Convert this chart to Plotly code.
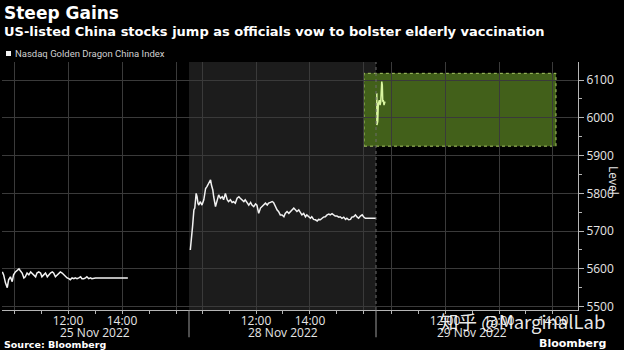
import plotly.graph_objects as go

# ---------------- data (minutes after 09:30 New York time) ----------------
t_nov25 = [4, 7, 11, 15, 18, 22, 26, 29, 33, 37, 41, 44, 48, 52, 55, 59, 63, 67, 70, 74,
           78, 81, 85, 89, 92, 96, 100, 104, 107, 111, 115, 118, 122, 126, 129, 133, 137, 141,
           144, 148, 152, 155, 159, 163, 166, 170, 174, 178, 181, 185, 189, 192, 196, 200,
           203, 207, 211, 283]
v_nov25 = [5592, 5584, 5563, 5550, 5571, 5579, 5566, 5584, 5592, 5597, 5600, 5595, 5589, 5576,
           5579, 5589, 5584, 5592, 5589, 5584, 5579, 5589, 5592, 5589, 5579, 5584, 5589, 5579,
           5584, 5589, 5592, 5589, 5579, 5584, 5589, 5592, 5589, 5584, 5579, 5576, 5574, 5571,
           5576, 5574, 5576, 5574, 5576, 5579, 5574, 5574, 5576, 5579, 5574, 5576, 5574, 5576,
           5576, 5576]

t_nov28 = [4, 6, 9, 12, 14, 17, 19, 21, 23, 26, 30, 34, 38, 41, 45, 49, 51, 54, 56, 60,
           63, 67, 71, 75, 78, 82, 86, 89, 93, 97, 100, 104, 108, 112, 115, 119, 123, 126,
           130, 134, 138, 141, 145, 149, 152, 156, 160, 163, 167, 171, 175, 178, 182, 186,
           189, 193, 197, 200, 204, 208, 212, 215, 219, 223, 226, 230, 234, 237, 241, 245,
           249, 252, 256, 260, 263, 267, 271, 274, 278, 282, 286, 289, 293, 297, 300, 304,
           308, 312, 315, 319, 323, 326, 330, 334, 337, 341, 345, 349, 352, 356, 360, 363,
           367, 371, 375, 378, 382, 386, 389, 393, 420]
v_nov28 = [5650, 5686, 5712, 5756, 5761, 5800, 5791, 5774, 5769, 5778, 5769, 5783, 5813, 5818,
           5827, 5836, 5822, 5809, 5791, 5765, 5778, 5796, 5787, 5791, 5783, 5800, 5783, 5778,
           5783, 5776, 5778, 5774, 5787, 5791, 5787, 5783, 5778, 5783, 5774, 5769, 5776, 5769,
           5765, 5772, 5769, 5747, 5761, 5765, 5769, 5774, 5769, 5774, 5776, 5778, 5776, 5765,
           5756, 5752, 5743, 5743, 5738, 5747, 5752, 5747, 5752, 5756, 5761, 5758, 5752, 5756,
           5747, 5743, 5747, 5738, 5743, 5738, 5734, 5738, 5731, 5730, 5727, 5731, 5730, 5734,
           5737, 5738, 5743, 5745, 5743, 5746, 5743, 5740, 5740, 5737, 5738, 5734, 5737, 5731,
           5734, 5730, 5731, 5737, 5738, 5743, 5737, 5734, 5740, 5743, 5738, 5734, 5734]

t_nov29 = [74.2, 74.3, 75.2, 75.9, 77.0, 77.8, 78.6, 78.9, 79.7, 80.3, 80.8, 81.4, 82.2, 83.0, 83.3]
v_nov29 = [6065, 5981, 5990, 6038, 6047, 6034, 6043, 6091, 6096, 6087, 6043, 6047, 6034, 6038, 6043]

day_labels = ["25 Nov 2022", "28 Nov 2022", "29 Nov 2022"]
y_ticks = [5500, 5600, 5700, 5800, 5900, 6000, 6100]
highlight_low, highlight_high = 5925, 6118

WHITE = "#f2f2f2"
GRID = "#3a3a3a"
AXIS = "#b5b5b5"
TXT = "#e6e6e6"
TICKFONT = dict(family="Open Sans, Liberation Sans, sans-serif", size=12, color=TXT)

fig = go.Figure()
fig.add_trace(go.Scatter(x=t_nov25, y=v_nov25, xaxis="x", yaxis="y", mode="lines",
                         line=dict(color=WHITE, width=1.5), hoverinfo="skip", showlegend=False))
fig.add_trace(go.Scatter(x=t_nov28, y=v_nov28, xaxis="x2", yaxis="y", mode="lines",
                         line=dict(color=WHITE, width=1.5), hoverinfo="skip", showlegend=False))

xcommon = dict(anchor="y", showline=True, linecolor=AXIS, linewidth=1, showgrid=True,
               gridcolor=GRID, gridwidth=1, zeroline=False, ticks="",
               tickfont=TICKFONT, fixedrange=True)

W = 576.0
H = 248.0
b1, b2 = 187.0 / W, 374.0 / W

fig.update_layout(
    width=624, height=350,
    margin=dict(l=2, r=46, t=62, b=40),
    paper_bgcolor="#000000", plot_bgcolor="#000000",
    showlegend=False,
    xaxis=dict(domain=[0, b1], range=[3.3, 418.9], tickvals=[30, 150, 270, 390],
               ticktext=["", "12:00", "14:00", ""],
               minor=dict(dtick=60, tick0=30, ticks="outside", ticklen=3, tickcolor=AXIS, showgrid=False),
               **xcommon),
    xaxis2=dict(domain=[b1, b2], range=[1.1, 416.7], tickvals=[30, 150, 270, 390],
                ticktext=["", "12:00", "14:00", ""],
                minor=dict(dtick=60, tick0=30, ticks="outside", ticklen=3, tickcolor=AXIS, showgrid=False),
                **xcommon),
    xaxis3=dict(domain=[b2, 1], range=[73.3, 297.8], tickvals=[90, 150, 210, 270],
                ticktext=["", "12:00", "13:00", "14:00"],
                minor=dict(dtick=30, tick0=0, ticks="outside", ticklen=3, tickcolor=AXIS, showgrid=False),
                **xcommon),
    yaxis=dict(anchor="x3", side="right", range=[5491, 6148], tickvals=y_ticks,
               showline=True, linecolor=AXIS, showgrid=True, gridcolor=GRID, zeroline=False,
               ticks="outside", ticklen=5, tickcolor=AXIS, tickfont=TICKFONT,
               minor=dict(dtick=50, ticks="outside", ticklen=3, tickcolor=AXIS, showgrid=False),
               fixedrange=True),
)

# session shading for the middle day
fig.add_shape(type="rect", xref="x2 domain", yref="y domain", x0=0, x1=1, y0=0, y1=1,
              fillcolor="#1c1c1c", line_width=0, layer="below")
# dotted boundary before the latest session
fig.add_shape(type="line", xref="x3 domain", yref="y domain", x0=0, x1=0, y0=0, y1=1,
              line=dict(color="#6a6a6a", width=1, dash="dot"))
# long separator ticks between days
for ax in ["x2 domain", "x3 domain"]:
    fig.add_shape(type="line", xref=ax, yref="paper", x0=0, x1=0, y0=-0.11, y1=0,
                  line=dict(color="#9a9a9a", width=1))

# highlight box around the latest jump
fig.add_shape(type="rect", xref="paper", yref="y", x0=(364 - 2) / W, x1=(556 - 2) / W,
              y0=highlight_low, y1=highlight_high,
              fillcolor="#42601a", line=dict(color="#a9c866", width=1, dash="dot"),
              layer="below")
# latest session line (above the box)
fig.add_trace(go.Scatter(x=t_nov29, y=v_nov29, xaxis="x3", yaxis="y", mode="lines",
                         line=dict(color="#d9f5a0", width=1.5), hoverinfo="skip", showlegend=False))

# date labels
for ax, xm, lab in [("x", 210, day_labels[0]), ("x2", 210, day_labels[1]), ("x3", 180, day_labels[2])]:
    fig.add_annotation(xref=ax, yref="paper", x=xm, y=0, yanchor="middle", yshift=-22,
                       text=lab, showarrow=False, font=TICKFONT)

# titles
fig.add_annotation(xref="paper", yref="paper", x=0, y=1, xanchor="left", yanchor="middle",
                   yshift=49.5, text="<b>Steep Gains</b>", showarrow=False,
                   font=dict(family="DejaVu Sans", size=17, color="#ffffff"))
fig.add_annotation(xref="paper", yref="paper", x=0, y=1, xanchor="left", yanchor="middle",
                   yshift=30.5, text="<b>US-listed China stocks jump as officials vow to bolster elderly vaccination</b>",
                   showarrow=False, font=dict(family="DejaVu Sans", size=13, color="#ffffff"))
# legend swatch + label
fig.add_shape(type="rect", xref="paper", yref="paper", x0=(6 - 2) / W, x1=(11 - 2) / W,
              y0=(310 - 56) / H, y1=(310 - 51) / H, fillcolor="#f2f2f2", line_width=0)
fig.add_annotation(xref="paper", yref="paper", x=(13 - 2) / W, y=1, xanchor="left", yanchor="middle",
                   yshift=8.5, text="Nasdaq Golden Dragon China Index", showarrow=False,
                   font=dict(family="Roboto, sans-serif", size=9.5, color="#d0d0d0"))

# axis title
fig.add_annotation(xref="paper", yref="paper", x=1, y=0.5, xanchor="center", yanchor="middle",
                   xshift=36, yshift=6, text="Level", textangle=90, showarrow=False,
                   font=dict(family="Open Sans, sans-serif", size=12, color=TXT))

# footer
fig.add_annotation(xref="paper", yref="paper", x=0, y=0, xanchor="left", yanchor="middle",
                   yshift=-34, text="<b>Source: Bloomberg</b>", showarrow=False,
                   font=dict(family="DejaVu Sans", size=9.5, color="#ffffff"))
fig.add_annotation(xref="paper", yref="paper", x=1, y=0, xanchor="right", yanchor="middle",
                   xshift=30, yshift=-33, text="<b>Bloomberg</b>", showarrow=False,
                   font=dict(family="DejaVu Sans", size=11, color="#ffffff"))
# watermark
fig.add_annotation(xref="paper", yref="paper", x=1, y=0, xanchor="right", yanchor="middle",
                   xshift=29, yshift=-11, text="知乎 @MarginalLab", showarrow=False,
                   font=dict(family="Noto Sans CJK SC", size=18.5, color="rgba(255,255,255,0.92)"))

fig.write_html("out.html", config={"displayModeBar": False})
